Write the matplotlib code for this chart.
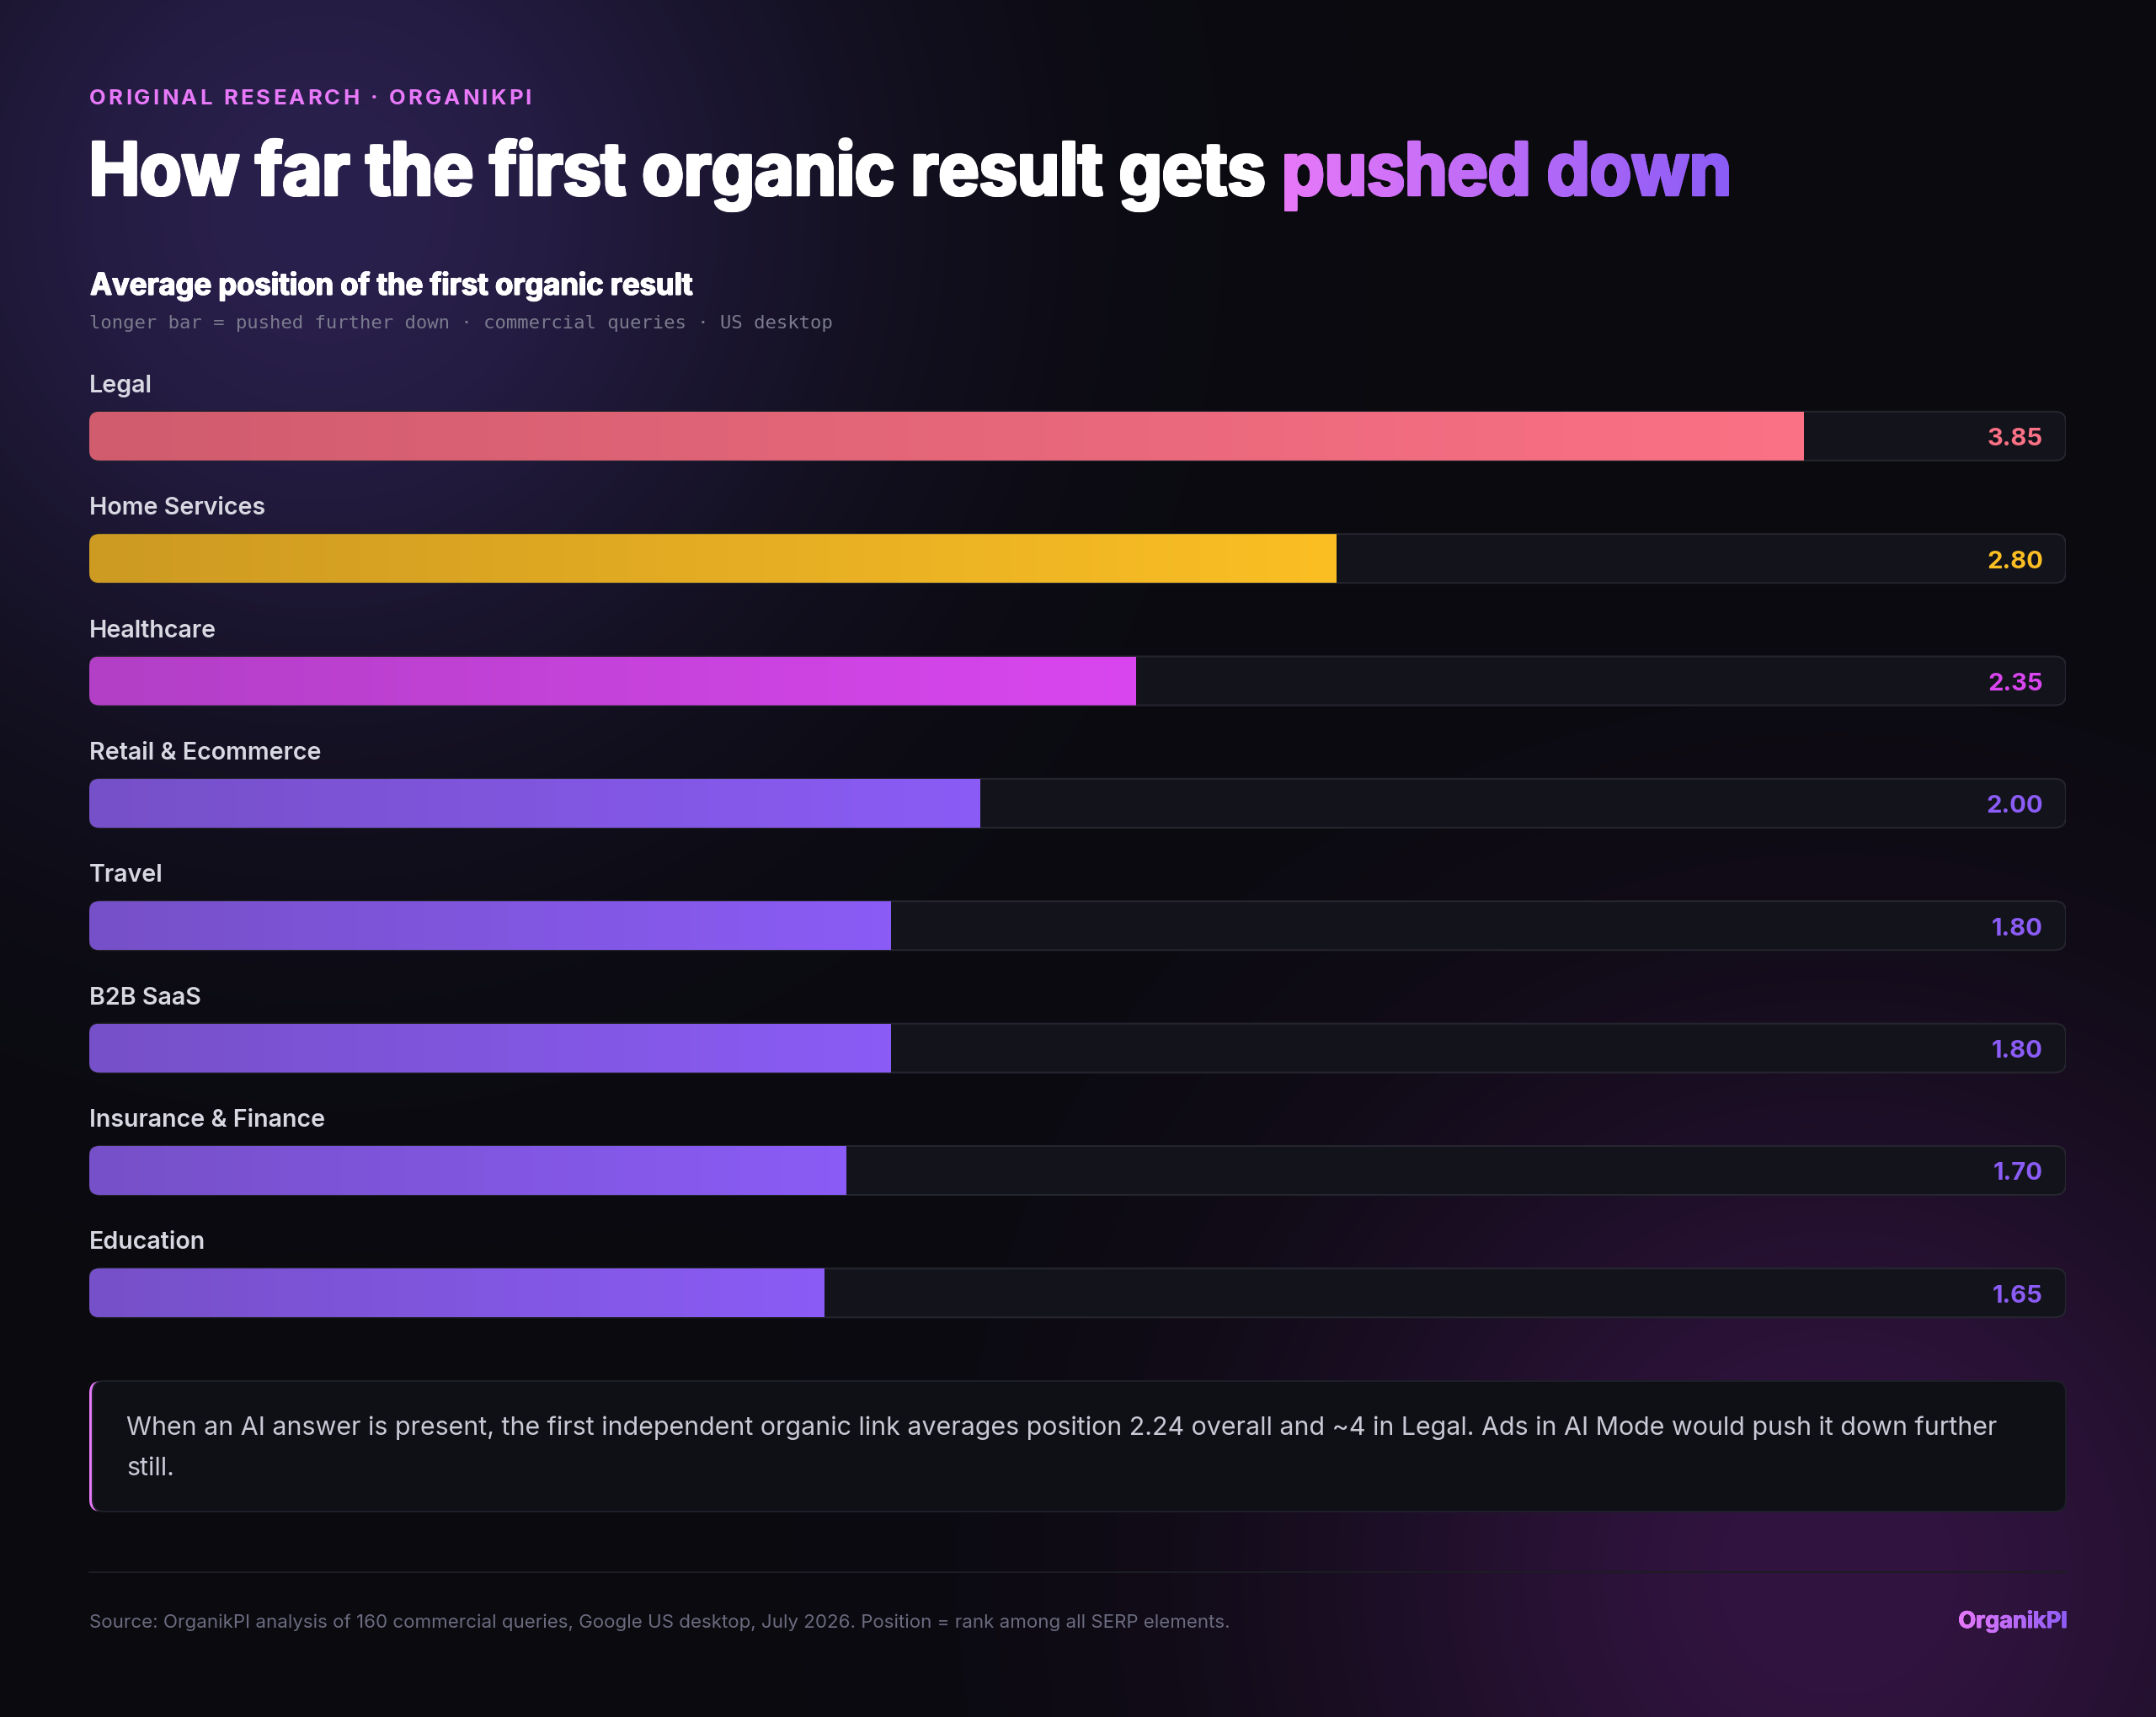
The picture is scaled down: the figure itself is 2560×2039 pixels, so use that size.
import numpy as np
import matplotlib.pyplot as plt
from matplotlib.patches import FancyBboxPatch, PathPatch
from matplotlib.textpath import TextPath
from matplotlib.font_manager import FontProperties
from matplotlib.transforms import Affine2D, blended_transform_factory
from matplotlib.colors import to_rgb

# Datos
categories = ["Legal", "Home Services", "Healthcare", "Retail & Ecommerce",
              "Travel", "B2B SaaS", "Insurance & Finance", "Education"]
positions = [3.85, 2.80, 2.35, 2.00, 1.80, 1.80, 1.70, 1.65]
bar_start = ["#d05c6e", "#cd9a22", "#b23fc6", "#7650c8",
             "#7650c8", "#7650c8", "#7650c8", "#7650c8"]
bar_end = ["#fb7185", "#fbbf24", "#d946ef", "#8b5cf6",
           "#8b5cf6", "#8b5cf6", "#8b5cf6", "#8b5cf6"]
axis_max = 4.44

eyebrow = "ORIGINAL RESEARCH · ORGANIKPI"
title = "How far the first organic result gets pushed down"
title_hl = "pushed down"
subtitle = "Average position of the first organic result"
caption = "longer bar = pushed further down · commercial queries · US desktop"
note_lines = ["When an AI answer is present, the first independent organic link averages "
              "position 2.24 overall and ~4 in Legal. Ads in AI Mode would push it down further",
              "still."]
source = ("Source: OrganikPI analysis of 160 commercial queries, Google US desktop, "
          "July 2026. Position = rank among all SERP elements.")
brand = "OrganikPI"

W, H = 2560, 2040
FONT = "Inter"
fig = plt.figure(figsize=(W / 100, H / 100), dpi=100)
fig.patch.set_facecolor("#0a0a0f")

ov = fig.add_axes([0, 0, 1, 1])
ov.set_xlim(0, W)
ov.set_ylim(H, 0)
ov.axis("off")
ov.set_autoscale_on(False)

# Fondo con dos halos
yy, xx = np.mgrid[0:H:4, 0:W:4]
g1 = np.exp(-((xx - 380) ** 2 + (yy - 250) ** 2) / (2 * 430 ** 2))
g2 = np.exp(-((xx - 2180) ** 2 + (yy - 1870) ** 2) / (2 * 440 ** 2))
bg = (np.array([10, 10, 15]) + g1[..., None] * np.array([32, 22, 62])
      + g2[..., None] * np.array([40, 10, 50])) / 255
ov.imshow(np.clip(bg, 0, 1), extent=(0, W, H, 0), aspect="auto",
          interpolation="bilinear", zorder=0)


def grad_colors(c0, c1, n=400):
    t = np.linspace(0, 1, n)[:, None]
    return (1 - t) * np.array(to_rgb(c0)) + t * np.array(to_rgb(c1))


def path_text(s, x, y, em, weight, c0, c1=None, width=None, ha="left", split=None, bold=0.0):
    fp = FontProperties(family=FONT, weight=weight)
    tp = TextPath((0, 0), s, size=em, prop=fp)
    e = tp.get_extents()
    sx = width / e.width if width else 1.0
    w = e.width * sx
    if ha == "right":
        x = x - w
    n = 800
    cols = np.tile(np.array(to_rgb(c0)), (n, 1))
    if c1 is not None:
        if split is None:
            cols = grad_colors(c0, c1, n)
        else:
            hp = TextPath((0, 0), split, size=em, prop=fp).get_extents()
            f = (e.x1 - hp.width - e.x0) / e.width - 0.004
            k = int(f * n)
            cols[:k] = to_rgb("#ffffff")
            cols[k:] = grad_colors(c0, c1, n - k)
    offs = [(0.0, 0.0)]
    if bold:
        offs = [(dx, dy) for dx in (-bold, 0, bold) for dy in (-bold * 0.6, 0, bold * 0.6)]
    for dx, dy in offs:
        tr = Affine2D().translate(-e.x0, 0).scale(sx, -1).translate(x + dx, y + dy)
        patch = PathPatch(tp, transform=tr + ov.transData, fc="none", ec="none")
        ov.add_patch(patch)
        im = ov.imshow(cols[None, :, :],
                       extent=(x - 4, x + w + 4, y - e.y0 + 4, y - e.y1 - 4),
                       aspect="auto", interpolation="bilinear", zorder=3)
        im.set_clip_path(patch)


def tracked_text(s, x, y, size, weight, color, track):
    r = fig.canvas.get_renderer()
    for ch in s:
        if ch == " ":
            x += size * 100 / 72 * 0.28 + track
            continue
        t = ov.text(x, y, ch, fontsize=size, fontweight=weight, color=color,
                    family=FONT, va="baseline", ha="left", zorder=4)
        x += t.get_window_extent(r).width + track


# Encabezado
tracked_text(eyebrow, 106, 124, 18.5, "bold", "#e879f9", 3.1)
path_text(title, 111, 233, 88, "bold", "#e879f9", "#8b5cf6", width=1940,
          split=title_hl, bold=1.8)
path_text(subtitle, 108, 351, 36, "bold", "#ffffff", width=714, bold=0.6)
ov.text(106, 390, caption, fontsize=16, family="DejaVu Sans Mono", color="#7b7b8e",
        va="baseline", ha="left")

# Barras
bax = fig.add_axes([106 / W, 1 - 1609 / H, 2347 / W, 1221 / H])
bax.set_xlim(0, axis_max)
bax.set_ylim(7.5, -0.9)
bax.axis("off")
bax.patch.set_alpha(0)
px_x = 2347 / axis_max
px_y = 1221 / 8.4
asp = px_x / px_y
bh = 58 / px_y
y = np.arange(len(categories))

bars = bax.barh(y, positions, height=bh, color="none")
bt = blended_transform_factory(bax.transAxes, bax.transData)
for i, rect in enumerate(bars):
    track = FancyBboxPatch((0, y[i] - bh / 2), axis_max, bh,
                           boxstyle=f"round,pad=0,rounding_size={13 / px_x}",
                           mutation_aspect=asp, fc="#13131b", ec="#25252f", lw=1.5, zorder=1)
    bax.add_patch(track)
    x0, yb, w, h = rect.get_x(), rect.get_y(), rect.get_width(), rect.get_height()
    clip = FancyBboxPatch((x0, yb), w + 40 / px_x, h,
                          boxstyle=f"round,pad=0,rounding_size={12 / px_x}",
                          mutation_aspect=asp, fc="none", ec="none")
    bax.add_patch(clip)
    im = bax.imshow(grad_colors(bar_start[i], bar_end[i])[None, :, :],
                    extent=(x0, x0 + w, yb + h, yb), aspect="auto",
                    interpolation="bilinear", zorder=2)
    im.set_clip_path(clip)
    bax.text(0, y[i] - 53 / px_y, categories[i], fontsize=20.6, fontweight="semibold",
             family=FONT, color="#d8d8e2", va="baseline", ha="left")
    bax.text(1 - 27 / 2347, y[i] + 10.5 / px_y, f"{positions[i]:.2f}", transform=bt,
             fontsize=21, fontweight="bold", family=FONT, color=bar_end[i],
             va="baseline", ha="right", zorder=3)
bax.set_xlim(0, axis_max)
bax.set_ylim(7.5, -0.9)

# Nota
ov.add_patch(FancyBboxPatch((106, 1641), 2347, 155, boxstyle="round,pad=0,rounding_size=14",
                            fc="#e879f9", ec="none", zorder=1))
ov.add_patch(FancyBboxPatch((110, 1641), 2343, 155, boxstyle="round,pad=0,rounding_size=14",
                            fc="#0f0f16", ec="#1e1e28", lw=1.5, zorder=1))
ov.text(150, 1704, note_lines[0], fontsize=21.9, family=FONT, color="#c9c9d6",
        va="baseline", ha="left", zorder=2)
ov.text(150, 1752, note_lines[1], fontsize=21.9, family=FONT, color="#c9c9d6",
        va="baseline", ha="left", zorder=2)

# Pie
ov.plot([106, 2453], [1868, 1868], color="#1c1c24", lw=1.5, zorder=1)
ov.text(106, 1933, source, fontsize=16.05, family=FONT, color="#6b6b80",
        va="baseline", ha="left")
path_text(brand, 2453, 1934, 27, "bold", "#e879f9", "#8b5cf6", ha="right", bold=0.4)

fig.savefig("out.png", dpi=100, facecolor=fig.get_facecolor())
